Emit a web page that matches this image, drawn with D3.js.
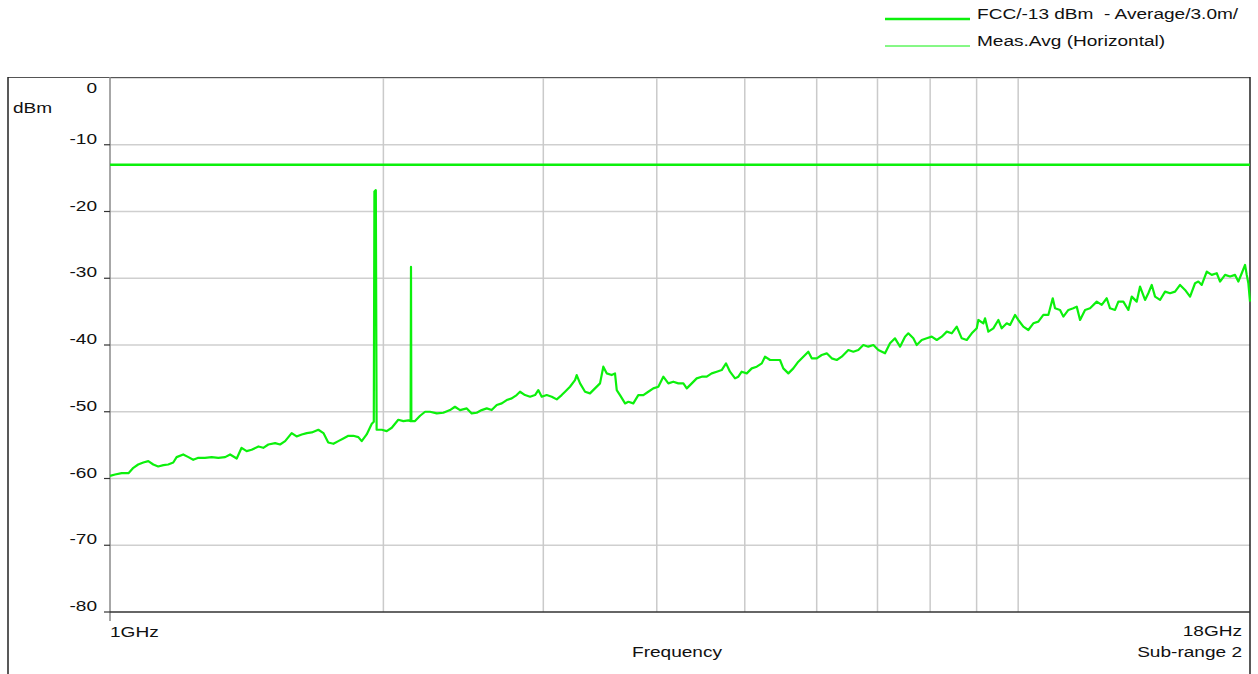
<!DOCTYPE html>
<html><head><meta charset="utf-8">
<script src="https://cdn.jsdelivr.net/npm/d3@7"></script>
<style>
body{margin:0;background:#fff}
svg{display:block}
text{font-family:"Liberation Sans",Arial,sans-serif;fill:#111;font-size:15.5px;white-space:pre}
</style>
</head><body><svg id="c" width="1258" height="674"></svg>
<script>
// ---- data ----
const freqGHz = [
 1.000,1.013,1.030,1.048,1.061,1.074,1.088,1.102,1.116,1.130,1.145,1.159,1.174,1.184,1.204,1.220,1.235,1.251,1.272,1.294,
 1.316,1.339,1.356,1.379,1.396,1.414,1.432,1.457,1.475,1.494,1.520,1.539,1.559,1.585,1.605,1.626,1.647,1.668,1.696,1.718,
 1.739,1.762,1.784,1.807,1.830,1.853,1.877,1.893,1.917,1.942,1.952,1.955,1.962,1.966,1.992,2.017,2.043,2.077,2.104,2.131,
 2.143,2.145,2.147,2.167,2.195,2.223,2.251,2.290,2.328,2.368,2.398,2.429,2.471,2.502,2.534,2.566,2.599,2.632,2.666,2.700,
 2.734,2.769,2.804,2.828,2.864,2.901,2.938,2.962,2.988,3.026,3.065,3.104,3.143,3.170,3.210,3.251,3.265,3.293,3.335,3.377,
 3.420,3.464,3.493,3.523,3.568,3.598,3.614,3.644,3.691,3.722,3.769,3.817,3.866,3.915,3.965,4.016,4.067,4.119,4.171,4.225,
 4.279,4.316,4.371,4.426,4.483,4.540,4.598,4.657,4.716,4.768,4.816,4.878,4.919,4.961,5.025,5.089,5.154,5.220,5.263,5.331,
 5.399,5.467,5.513,5.584,5.655,5.727,5.800,5.874,5.925,6.001,6.077,6.155,6.233,6.313,6.393,6.501,6.584,6.668,6.753,6.839,
 6.927,7.015,7.135,7.226,7.318,7.412,7.506,7.569,7.666,7.732,7.831,7.931,8.032,8.135,8.238,8.344,8.450,8.558,8.667,8.778,
 8.890,9.003,9.040,9.155,9.194,9.272,9.390,9.510,9.592,9.714,9.796,9.921,10.004,10.132,10.261,10.392,10.525,10.659,10.795,10.916,
 10.980,11.120,11.214,11.357,11.501,11.601,11.699,11.848,11.999,12.205,12.360,12.518,12.623,12.784,12.892,13.056,13.223,13.337,13.507,13.621,
 13.795,13.910,14.031,14.149,14.329,14.512,14.697,14.885,15.075,15.267,15.462,15.659,15.791,15.927,16.131,16.336,16.545,16.684,16.897,17.112,
 17.331,17.476,17.627,17.776,17.852,17.925,18.000
];
const levelDbm = [
 -59.6,-59.4,-59.2,-59.2,-58.4,-57.9,-57.6,-57.4,-57.9,-58.2,-58.0,-57.9,-57.6,-56.8,-56.4,-56.8,-57.2,-56.9,-56.9,-56.8,
 -56.9,-56.8,-56.4,-57.0,-55.4,-55.9,-55.7,-55.2,-55.4,-54.9,-54.7,-54.9,-54.4,-53.2,-53.7,-53.4,-53.2,-53.1,-52.7,-53.2,
 -54.6,-54.8,-54.4,-54.0,-53.6,-53.6,-53.8,-54.4,-53.4,-51.8,-51.5,-17.0,-16.8,-52.7,-52.7,-52.9,-52.4,-51.2,-51.4,-51.3,
 -51.4,-28.3,-51.4,-51.4,-50.6,-50.0,-50.0,-50.25,-50.15,-49.75,-49.25,-49.75,-49.5,-50.25,-50.15,-49.75,-49.5,-49.75,-49.0,-48.75,
 -48.25,-48.0,-47.5,-47.0,-47.5,-47.75,-47.5,-46.75,-47.75,-47.5,-47.75,-48.15,-47.5,-47.0,-46.25,-45.25,-44.5,-45.75,-47.0,-47.25,
 -46.5,-45.75,-43.25,-44.25,-44.5,-44.25,-46.75,-47.5,-48.75,-48.5,-48.75,-47.5,-47.5,-47.0,-46.5,-46.25,-44.75,-45.75,-45.5,-45.75,
 -45.75,-46.5,-45.75,-45.0,-44.75,-44.75,-44.25,-44.0,-43.75,-42.75,-44.0,-45.0,-44.75,-44.0,-44.25,-43.5,-43.25,-42.75,-41.75,-42.25,
 -42.25,-42.25,-43.5,-44.25,-43.5,-42.5,-41.75,-41.0,-42.0,-42.0,-41.5,-41.25,-42.0,-42.25,-41.75,-40.75,-41.0,-40.75,-40.0,-40.25,
 -40.0,-40.75,-41.25,-39.75,-39.0,-40.25,-38.75,-38.25,-39.0,-40.0,-39.25,-39.0,-38.75,-39.25,-38.75,-38.0,-38.25,-37.25,-39.0,-39.25,
 -38.25,-37.5,-36.25,-36.75,-36.0,-38.0,-37.5,-36.25,-37.5,-36.75,-37.0,-35.5,-36.25,-37.25,-37.75,-36.75,-36.5,-35.5,-35.5,-33.0,
 -34.5,-34.75,-35.75,-34.75,-34.5,-34.25,-36.25,-34.75,-34.5,-33.5,-34.0,-33.0,-34.5,-34.75,-33.5,-33.5,-34.75,-32.75,-33.5,-31.25,
 -33.25,-32.25,-31.0,-32.75,-33.25,-32.0,-32.25,-32.0,-31.0,-31.75,-32.75,-30.75,-30.5,-31.0,-29.0,-29.5,-29.25,-30.5,-29.5,-29.75,
 -29.5,-30.5,-29.25,-28.0,-29.5,-30.75,-33.5
];
const limitFreqGHz = [1, 18];
const limitDbm = [-13, -13];
const yTickValues = [0, -10, -20, -30, -40, -50, -60, -70, -80];
const xGridGHz = [2, 3, 4, 5, 6, 7, 8, 9, 10];
const xEndLabels = ["1GHz", "18GHz"];
const legendLabels = ["FCC/-13 dBm  - Average/3.0m/", "Meas.Avg (Horizontal)"];
const unitLabel = "dBm";
const axisTitle = "Frequency";
const subRangeLabel = "Sub-range 2";

// ---- drawing ----
const W = 1258, H = 674;
const L = 110, R = 1250, T = 78, B = 612;
const SX = 1.23;
const green = "#0cf00c";

const svg = d3.select("#c");
const x = d3.scaleLog().domain([1, 18]).range([L, R]);
const y = d3.scaleLinear().domain([-80, 0]).range([B, T]);

function txt(px, py, s, anchor) {
  return svg.append("text")
    .attr("transform", `translate(${px},${py}) scale(${SX},1)`)
    .attr("text-anchor", anchor || "start")
    .attr("xml:space", "preserve")
    .text(s);
}

// horizontal grid
svg.append("g").selectAll("line").data(yTickValues.filter(v => v > -80)).join("line")
  .attr("x1", L).attr("x2", R)
  .attr("y1", d => y(d)).attr("y2", d => y(d))
  .attr("stroke", "#cfcfcf").attr("stroke-width", 1.5);

// vertical grid
svg.append("g").selectAll("line").data(xGridGHz).join("line")
  .attr("x1", d => x(d)).attr("x2", d => x(d))
  .attr("y1", T).attr("y2", B)
  .attr("stroke", "#cacaca").attr("stroke-width", 1.5);

// outer frame
svg.append("line").attr("x1", 8).attr("x2", R).attr("y1", T - 0.5).attr("y2", T - 0.5)
  .attr("stroke", "#555").attr("stroke-width", 1.2);
svg.append("line").attr("x1", 8).attr("x2", 8).attr("y1", T - 1).attr("y2", H)
  .attr("stroke", "#222").attr("stroke-width", 1.5);
svg.append("line").attr("x1", R).attr("x2", R).attr("y1", T - 1).attr("y2", H)
  .attr("stroke", "#222").attr("stroke-width", 1.5);

// left axis
svg.append("line").attr("x1", L).attr("x2", L).attr("y1", T - 1).attr("y2", B + 9)
  .attr("stroke", "#8a8a8a").attr("stroke-width", 1.5);
// bottom axis
svg.append("line").attr("x1", L).attr("x2", R).attr("y1", B).attr("y2", B)
  .attr("stroke", "#333").attr("stroke-width", 1.5);

// y ticks + labels
svg.append("g").selectAll("line").data(yTickValues.filter(v => v < 0)).join("line")
  .attr("x1", L - 6).attr("x2", L).attr("y1", d => y(d)).attr("y2", d => y(d))
  .attr("stroke", "#333").attr("stroke-width", 1.2);
yTickValues.forEach(v => {
  const py = v === 0 ? y(v) + 15 : y(v) - 1;
  txt(97, py, String(v), "end");
});
txt(13, 113, unitLabel, "start");

// x labels
txt(x(1), 637, xEndLabels[0], "start");
txt(1242, 636, xEndLabels[1], "end");
txt(677, 657, axisTitle, "middle");
txt(1242, 657, subRangeLabel, "end");

// limit line
const lim = limitFreqGHz.map((f, i) => [f, limitDbm[i]]);
svg.append("path").datum(lim)
  .attr("d", d3.line().x(d => x(d[0])).y(d => y(d[1])))
  .attr("fill", "none").attr("stroke", green).attr("stroke-width", 2.5);

// measurement trace
const meas = freqGHz.map((f, i) => [f, levelDbm[i]]);
svg.append("path").datum(meas)
  .attr("d", d3.line().x(d => x(d[0])).y(d => y(d[1])))
  .attr("fill", "none").attr("stroke", green).attr("stroke-width", 2.2)
  .attr("stroke-linejoin", "round");

// legend
svg.append("line").attr("x1", 885).attr("x2", 970).attr("y1", 19).attr("y2", 19)
  .attr("stroke", green).attr("stroke-width", 2.5);
txt(977, 18.5, legendLabels[0], "start");
svg.append("line").attr("x1", 885).attr("x2", 970).attr("y1", 46).attr("y2", 46)
  .attr("stroke", green).attr("stroke-width", 1);
txt(977, 46, legendLabels[1], "start");
</script>
</body></html>
